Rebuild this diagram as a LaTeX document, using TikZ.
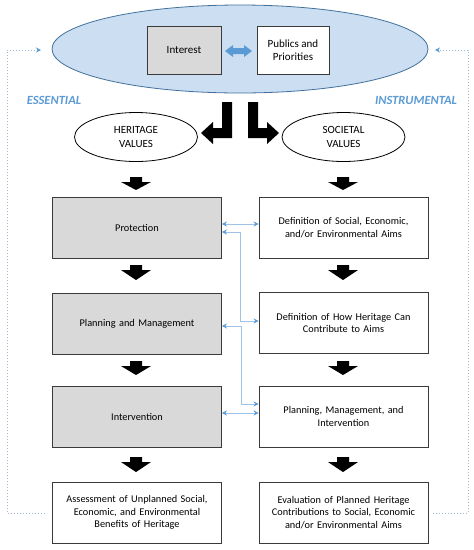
\documentclass[tikz,border=0pt]{standalone}
\usepackage{fontspec}
\setmainfont{Carlito}
\usetikzlibrary{arrows.meta,shapes.geometric}
\definecolor{ellfill}{HTML}{CCDEF1}
\definecolor{elldraw}{HTML}{41719C}
\definecolor{boxgray}{HTML}{D9D9D9}
\definecolor{boxline}{HTML}{3A3A3A}
\definecolor{linkblue}{HTML}{9DC3E6}
\definecolor{tipblue}{HTML}{5B9BD5}
\definecolor{dotblue}{HTML}{9FB6D4}
\definecolor{labblue}{HTML}{5B9BD5}
\tikzset{
  stagebox/.style={draw=boxline,line width=0.9pt,minimum width=169pt,minimum height=61pt,inner sep=2pt,align=center,font=\fontsize{10.3}{12.3}\selectfont,text width=160pt},
  graybox/.style={stagebox,fill=boxgray},
  valell/.style={ellipse,draw=black,line width=0.8pt,fill=white,minimum width=123pt,minimum height=49pt,inner sep=0pt,align=center,font=\fontsize{11}{14}\selectfont},
  topbox/.style={draw=boxline,line width=0.9pt,minimum height=48pt,inner sep=0pt,align=center,font=\fontsize{11}{13.5}\selectfont},
  link/.style={draw=linkblue,line width=0.9pt,{Stealth[length=5pt,width=5pt,color=tipblue]}-{Stealth[length=5pt,width=5pt,color=tipblue]}},
  feedback/.style={draw=dotblue,line width=0.9pt,dash pattern=on 1.2pt off 1.8pt,-{Stealth[length=5pt,width=5pt,color=tipblue]}},
  blockarrow/.style={fill=black,draw=none},
  sidelabel/.style={text=labblue,font=\fontsize{12.5}{14}\selectfont\bfseries\itshape,inner sep=0pt}
}
\newcommand{\downarrowat}[3]{% x, top y, bottom y
  \fill[blockarrow] (#1-6,#2) -- (#1+6,#2) -- (#1+6,#2+5) -- (#1+15,#2+5) -- (#1,#3) -- (#1-15,#2+5) -- (#1-6,#2+5) -- cycle;}
\begin{document}
\begin{tikzpicture}[x=1pt,y=-1pt]
\useasboundingbox (0,0) rectangle (474,550);
\fill[white] (0,0) rectangle (474,550);
% top ellipse
\node[ellipse,draw=elldraw,line width=0.8pt,fill=ellfill,minimum width=376pt,minimum height=88pt,inner sep=0pt] (top) at (240,49) {};
\node[topbox,fill=boxgray,minimum width=74pt] (interest) at (184,50) {Interest};
\node[topbox,fill=white,minimum width=72pt] (publics) at (293,50) {Publics and\\Priorities};
\fill[tipblue] (225,51) -- (233,45) -- (233,48) -- (244,48) -- (244,45) -- (252,51) -- (244,57) -- (244,54) -- (233,54) -- (233,57) -- cycle;
% labels
\node[sidelabel] (ess) at (54,100) {ESSENTIAL};
\node[sidelabel] (ins) at (416,100) {INSTRUMENTAL};
% L arrows
\fill[blockarrow] (232,102) -- (232,138) -- (213,138) -- (213,144) -- (201,133) -- (213,122) -- (213,128) -- (222,128) -- (222,102) -- cycle;
\fill[blockarrow] (248,102) -- (248,138) -- (267,138) -- (267,144) -- (279,133) -- (267,122) -- (267,128) -- (258,128) -- (258,102) -- cycle;
% value ellipses
\node[valell] (herit) at (136,137) {HERITAGE\\VALUES};
\node[valell] (soc) at (343.5,137) {SOCIETAL\\VALUES};
% boxes
\node[graybox] (prot) at (137,228) {Protection};
\node[graybox] (plan) at (137,324) {Planning and Management};
\node[graybox] (inter) at (137,416.5) {Intervention};
\node[stagebox] (assess) at (137,512.5) {Assessment of Unplanned Social,\\Economic, and Environmental\\Benefits of Heritage};
\node[stagebox] (d1) at (343.5,227.5) {Definition of Social, Economic,\\and/or Environmental Aims};
\node[stagebox] (d2) at (343.5,323) {Definition of How Heritage Can\\Contribute to Aims};
\node[stagebox] (d3) at (343.5,416.5) {Planning, Management, and\\Intervention};
\node[stagebox] (eval) at (343.5,512.5) {Evaluation of Planned Heritage\\Contributions to Social, Economic\\and/or Environmental Aims};
% block arrows down
\downarrowat{136}{177}{190}
\downarrowat{343}{177}{190}
\downarrowat{136}{265}{280}
\downarrowat{343}{265}{280}
\downarrowat{136}{361}{375}
\downarrowat{343}{361}{375}
\downarrowat{136}{457}{472}
\downarrowat{343}{457}{472}
% links
\draw[link] ([yshift=4pt]prot.east) -- ([yshift=3.5pt]d1.west);
\draw[link] ([yshift=-4pt]prot.east) -- ++(18,0) |- ([yshift=2pt]d2.west);
\draw[link] ([yshift=-2pt]plan.east) -- ++(19,0) |- ([yshift=12.5pt]d3.west);
\draw[link] ([yshift=3.5pt]inter.east) -- ([yshift=3.5pt]d3.west);
% feedback dotted
\coordinate (fl0) at (45,513);
\coordinate (fl1) at (41,50);
\coordinate (fr0) at (433,513);
\coordinate (fr1) at (435,50);
\draw[feedback] (fl0) -- (7,513) -- (7,50) -- (fl1);
\draw[feedback] (fr0) -- (468,513) -- (468,50) -- (fr1);
\end{tikzpicture}
\end{document}
